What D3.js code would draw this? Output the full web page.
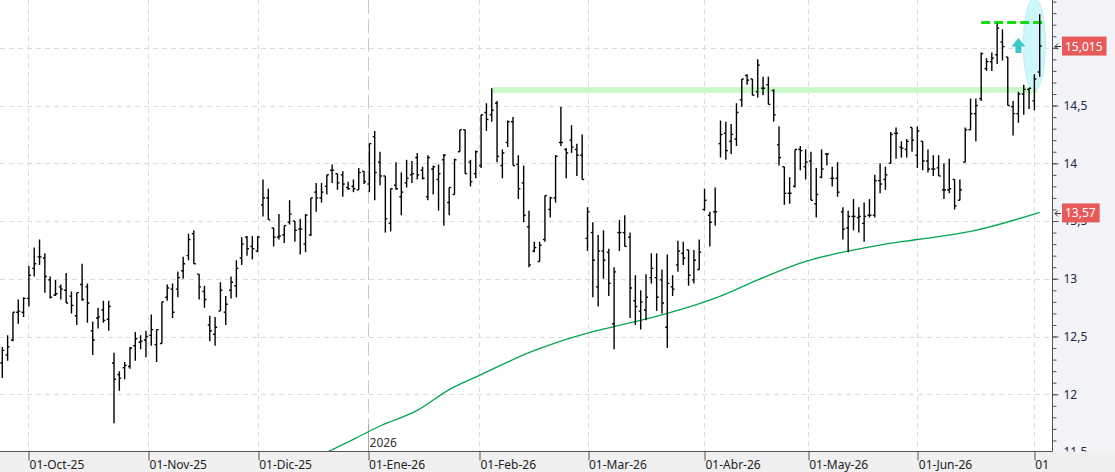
<!DOCTYPE html>
<html>
<head>
<meta charset="utf-8">
<script src="https://cdn.jsdelivr.net/npm/d3@7/dist/d3.min.js"></script>
<style>
body { margin: 0; background: #fff; }
svg { display: block; font-family: "Noto Sans", sans-serif; }
</style>
</head>
<body>
<svg id="chart" width="1115" height="472"></svg>
<script>
// daily bars, oldest first (index = trading day)
var open = [12.27,12.34,12.47,12.71,12.71,12.83,13.09,13.19,13.18,12.99,
 12.86,12.93,12.90,12.85,12.68,12.95,12.93,12.55,12.66,12.73,
 12.65,12.27,12.17,12.23,12.24,12.42,12.45,12.47,12.51,12.43,
 12.44,12.84,12.91,12.91,13.07,13.20,13.39,13.04,12.89,12.60,
 12.52,12.72,12.71,12.90,12.94,13.18,13.36,13.28,13.24,13.64,
 13.70,13.44,13.36,13.38,13.49,13.50,13.43,13.30,13.38,13.75,
 13.70,13.80,13.94,13.91,13.90,13.79,13.80,13.77,13.93,13.82,
 14.23,14.01,13.89,13.48,13.81,13.71,13.83,13.90,14.05,13.94,
 13.71,13.95,13.86,14.03,13.66,13.73,14.10,14.29,14.01,13.91,
 13.98,14.44,14.42,14.52,13.98,14.18,14.36,13.99,13.83,13.45,
 13.24,13.15,13.34,13.60,13.70,14.18,14.12,14.20,14.12,14.07,
 13.35,13.40,12.93,13.24,13.23,12.61,13.40,13.40,13.36,12.81,
 12.72,12.73,13.01,13.01,12.99,12.58,12.93,13.12,13.22,13.25,
 12.99,13.08,13.60,13.55,13.58,14.17,14.26,14.19,14.21,14.55,
 14.76,14.73,14.62,14.65,14.68,14.63,14.16,13.97,13.74,13.80,
 14.12,13.97,14.02,13.65,13.88,14.08,13.87,13.87,13.58,13.44,
 13.54,13.53,13.48,13.55,13.55,13.85,13.86,14.00,14.26,14.14,
 14.12,14.31,14.07,14.19,14.02,13.95,13.96,13.77,13.77,13.86,
 13.68,14.01,14.29,14.43,14.56,14.82,14.88,14.94,15.05,14.92,
 14.49,14.43,14.60,14.64,14.54,14.79]
var high = [12.41,12.51,12.71,12.82,12.84,13.11,13.27,13.34,13.22,13.02,
 12.99,12.95,13.05,12.89,12.88,13.13,12.96,12.63,12.75,12.81,
 12.81,12.36,12.20,12.28,12.41,12.54,12.51,12.55,12.69,12.56,
 12.80,12.95,12.96,13.06,13.19,13.39,13.42,13.04,12.94,12.68,
 12.67,12.97,12.85,13.02,13.16,13.36,13.37,13.37,13.37,13.86,
 13.78,13.44,13.56,13.46,13.68,13.50,13.52,13.56,13.70,13.83,
 13.83,13.90,13.99,13.91,13.93,13.84,13.86,13.96,13.93,14.17,
 14.28,14.10,13.89,13.78,14.01,13.92,14.03,14.02,14.09,13.97,
 14.07,13.98,13.99,14.08,13.79,14.04,14.29,14.29,14.03,14.11,
 14.42,14.52,14.65,14.54,14.12,14.37,14.40,14.07,13.98,13.59,
 13.32,13.32,13.72,13.71,14.07,14.49,14.13,14.33,14.17,14.25,
 13.62,13.49,13.38,13.42,13.26,13.10,13.51,13.55,13.40,13.03,
 12.90,13.04,13.22,13.22,13.08,13.21,13.03,13.33,13.32,13.25,
 13.25,13.34,13.78,13.58,13.79,14.37,14.36,14.34,14.52,14.73,
 14.77,14.73,14.90,14.75,14.75,14.64,14.32,13.97,13.88,14.12,
 14.15,14.12,14.10,13.96,14.12,14.09,13.97,14.01,13.62,13.59,
 13.69,13.62,13.66,13.69,13.90,14.00,13.97,14.27,14.31,14.19,
 14.21,14.31,14.32,14.19,14.12,14.07,14.07,14.00,14.04,13.86,
 13.86,14.31,14.56,14.56,14.96,14.91,14.96,15.21,15.16,14.92,
 14.54,14.62,14.68,14.65,14.77,15.29]
var low = [12.14,12.29,12.46,12.61,12.67,12.76,13.02,13.12,12.88,12.83,
 12.85,12.82,12.79,12.70,12.60,12.81,12.62,12.34,12.57,12.62,
 12.55,11.75,12.03,12.13,12.22,12.29,12.39,12.32,12.42,12.28,
 12.44,12.81,12.66,12.84,13.00,13.16,13.13,12.82,12.75,12.46,
 12.42,12.72,12.60,12.83,12.84,13.12,13.20,13.17,13.23,13.54,
 13.51,13.28,13.34,13.31,13.47,13.32,13.21,13.23,13.37,13.58,
 13.66,13.73,13.83,13.77,13.71,13.77,13.75,13.77,13.82,13.75,
 13.68,13.81,13.40,13.41,13.77,13.55,13.79,13.83,13.86,13.86,
 13.68,13.73,13.59,13.46,13.55,13.73,14.10,13.91,13.80,13.87,
 13.96,14.28,14.36,14.01,13.87,14.14,13.98,13.69,13.49,13.10,
 13.23,13.15,13.32,13.53,13.66,14.15,13.87,14.09,13.89,13.86,
 13.24,12.84,12.76,13.00,12.85,12.39,13.24,13.28,12.66,12.60,
 12.56,12.64,12.96,12.72,12.70,12.40,12.85,13.06,13.12,12.94,
 12.96,13.08,13.59,13.28,13.46,14.05,14.03,14.08,14.15,14.49,
 14.68,14.59,14.57,14.59,14.51,14.36,13.98,13.64,13.65,13.79,
 13.94,13.86,13.68,13.53,13.87,13.98,13.80,13.71,13.34,13.23,
 13.42,13.40,13.32,13.53,13.53,13.74,13.77,14.00,14.04,14.05,
 14.05,14.10,13.96,13.94,13.92,13.89,13.89,13.69,13.74,13.60,
 13.68,14.01,14.29,14.19,14.54,14.80,14.80,14.86,14.89,14.50,
 14.24,14.35,14.42,14.47,14.46,14.75]
var close = [12.38,12.41,12.71,12.72,12.83,13.03,13.13,13.19,13.02,12.84,
 12.87,12.91,12.79,12.77,12.88,12.82,12.79,12.47,12.67,12.64,
 12.76,12.13,12.14,12.25,12.40,12.48,12.46,12.50,12.56,12.56,
 12.80,12.92,12.71,13.01,13.13,13.34,13.13,12.93,12.82,12.55,
 12.58,12.90,12.78,12.97,13.09,13.30,13.26,13.26,13.36,13.70,
 13.51,13.36,13.37,13.46,13.56,13.42,13.43,13.55,13.70,13.70,
 13.75,13.90,13.94,13.83,13.82,13.78,13.78,13.92,13.84,14.17,
 13.92,13.89,13.52,13.78,13.78,13.75,13.87,13.91,13.90,13.87,
 14.05,13.97,13.91,14.07,13.79,14.03,14.29,13.91,13.84,14.10,
 14.42,14.38,14.46,14.06,14.09,14.36,13.98,13.78,13.55,13.12,
 13.27,13.29,13.72,13.70,14.06,14.18,14.09,14.14,14.07,13.86,
 13.58,13.16,13.24,13.16,12.96,13.06,13.40,13.28,12.92,12.76,
 12.80,12.84,13.09,12.84,12.79,12.96,12.91,13.24,13.18,13.03,
 13.16,13.23,13.68,13.49,13.58,14.25,14.11,14.25,14.44,14.73,
 14.72,14.59,14.85,14.65,14.51,14.42,14.05,13.74,13.74,14.12,
 14.11,14.01,13.68,13.73,13.95,14.08,13.87,13.75,13.43,13.54,
 13.54,13.54,13.54,13.55,13.85,13.82,13.90,14.25,14.26,14.13,
 14.19,14.20,14.28,14.02,13.95,13.95,13.89,13.77,13.78,13.63,
 13.77,14.29,14.43,14.50,14.95,14.88,14.91,15.17,15.01,14.50,
 14.43,14.60,14.64,14.65,14.73,15.015]

// moving average, read at some bars
var maIdx = [60, 66, 71, 78, 84, 90, 99, 110, 115, 125, 135, 142, 151, 159, 166, 172, 182, 195]
var maVal = [11.475, 11.61, 11.725, 11.86, 12.04, 12.17, 12.36, 12.53, 12.585, 12.70, 12.85, 12.99, 13.15, 13.24, 13.30, 13.34, 13.41, 13.575]

// month ticks (bar index, fractional when the 1st is not a trading day)
var monthIdx = [4.85, 27.4, 48, 68.65, 89.6, 110, 131.9, 151.4, 172, 193.9]
var monthLabels = ["01-Oct-25", "01-Nov-25", "01-Dic-25", "01-Ene-26", "01-Feb-26", "01-Mar-26", "01-Abr-26", "01-May-26", "01-Jun-26", "01"]
var yearIdx = 68.65
var yearLabel = "2026"

var yTickVals = [11.5, 12, 12.5, 13, 13.5, 14, 14.5, 15]
var yTickLabels = ["11,5", "12", "12,5", "13", "13,5", "14", "14,5", "15"]

// annotations
var bandFrom = 92, bandTo = 194.5, bandLo = 14.61, bandHi = 14.66
var resistFrom = 184, resistTo = 195.7, resistVal = 15.22
var arrowIdx = 191, arrowTop = 15.085, arrowBottom = 14.955
var ovalIdx = 194, ovalVal = 15.03, ovalHalfBars = 2.1, ovalHalfVal = 0.4

var lastVals = [15.015, 13.57]
var lastTexts = ["15,015", "13,57"]

var W = 1115, H = 472
var plotRight = 1052.5, plotBottom = 451.5

var svg = d3.select('#chart')

var x = d3.scaleLinear()
    .domain([0, open.length - 1])
    .range([2.3, 1039.7])
var y = d3.scaleLinear()
    .domain([11.5, 15.4])
    .range([452, 1.6])

svg.append('defs').append('clipPath')
    .attr('id', 'plotClip')
    .append('rect')
    .attr('x', 0).attr('y', 0)
    .attr('width', plotRight).attr('height', plotBottom)

// right axis panel
svg.append('rect')
    .attr('x', plotRight).attr('y', 0)
    .attr('width', W - plotRight).attr('height', plotBottom)
    .attr('fill', '#f3f4f8')

var plot = svg.append('g').attr('clip-path', 'url(#plotClip)')

// grid
plot.append('g').selectAll('line')
    .data(yTickVals.slice(1))
    .enter().append('line')
    .attr('x1', 0).attr('x2', plotRight)
    .attr('y1', function(d) { return Math.round(y(d)) + 0.5 })
    .attr('y2', function(d) { return Math.round(y(d)) + 0.5 })
    .attr('stroke', '#dcdcdc')
    .attr('stroke-dasharray', '5,4')

plot.append('g').selectAll('line')
    .data(monthIdx.filter(function(d) { return d != yearIdx }))
    .enter().append('line')
    .attr('x1', function(d) { return Math.round(x(d)) + 0.5 })
    .attr('x2', function(d) { return Math.round(x(d)) + 0.5 })
    .attr('y1', 0).attr('y2', plotBottom)
    .attr('stroke', '#dcdcdc')
    .attr('stroke-dasharray', '5,4')

// year separator
plot.append('line')
    .attr('x1', Math.round(x(yearIdx)) + 0.5).attr('x2', Math.round(x(yearIdx)) + 0.5)
    .attr('y1', 0).attr('y2', 424)
    .attr('stroke', '#cacaca')
    .attr('stroke-dasharray', '14,5')
plot.append('line')
    .attr('x1', Math.round(x(yearIdx)) + 0.5).attr('x2', Math.round(x(yearIdx)) + 0.5)
    .attr('y1', 424).attr('y2', plotBottom)
    .attr('stroke', '#aaaaaa')
plot.append('text')
    .attr('x', x(yearIdx) + 2)
    .attr('y', 447)
    .attr('font-size', 12)
    .attr('fill', '#333')
    .text(yearLabel)

// resistance band
plot.append('rect')
    .attr('x', x(bandFrom))
    .attr('y', y(bandHi))
    .attr('width', x(bandTo) - x(bandFrom))
    .attr('height', y(bandLo) - y(bandHi))
    .attr('fill', '#c9f8c9')

// oval
plot.append('ellipse')
    .attr('cx', x(ovalIdx))
    .attr('cy', y(ovalVal))
    .attr('rx', x(ovalIdx + ovalHalfBars) - x(ovalIdx))
    .attr('ry', y(ovalVal - ovalHalfVal) - y(ovalVal))
    .attr('fill', '#cdf7fb')
    .attr('stroke', '#bdeff6')

// moving average
plot.append('path')
    .datum(d3.zip(maIdx, maVal))
    .attr('d', d3.line()
          .curve(d3.curveMonotoneX)
          .x(function(d) { return x(d[0]) })
          .y(function(d) { return y(d[1]) }))
    .attr('fill', 'none')
    .attr('stroke', '#00a651')
    .attr('stroke-width', 1.3)

// dashed line on the top
plot.append('line')
    .attr('x1', x(resistFrom)).attr('x2', x(resistTo))
    .attr('y1', y(resistVal)).attr('y2', y(resistVal))
    .attr('stroke', '#11dd11')
    .attr('stroke-width', 3)
    .attr('stroke-dasharray', '9,4')

// up arrow
var ax = x(arrowIdx), at = y(arrowTop), ab = y(arrowBottom), am = at + (ab - at) * 0.56
plot.append('path')
    .attr('d', 'M' + ax + ',' + at + ' L' + (ax + 7) + ',' + am + ' L' + (ax + 3) + ',' + am +
          ' L' + (ax + 3) + ',' + ab + ' L' + (ax - 3) + ',' + ab + ' L' + (ax - 3) + ',' + am +
          ' L' + (ax - 7) + ',' + am + 'Z')
    .attr('fill', '#3ec6c9')

// OHLC bars
var bars = plot.append('g')
    .attr('stroke', '#000')
    .attr('stroke-width', 1.4)
    .selectAll('g')
    .data(d3.range(open.length))
    .enter()
    .append('g')

bars.append('line')
    .attr('x1', function(i) { return x(i) }).attr('x2', function(i) { return x(i) })
    .attr('y1', function(i) { return y(high[i]) }).attr('y2', function(i) { return y(low[i]) })
bars.append('line')
    .attr('x1', function(i) { return x(i) - 2 }).attr('x2', function(i) { return x(i) })
    .attr('y1', function(i) { return y(open[i]) }).attr('y2', function(i) { return y(open[i]) })
bars.append('line')
    .attr('x1', function(i) { return x(i) }).attr('x2', function(i) { return x(i) + 2 })
    .attr('y1', function(i) { return y(close[i]) }).attr('y2', function(i) { return y(close[i]) })

// right axis
var yAxisG = svg.append('g').attr('transform', 'translate(' + plotRight + ',0)')
yAxisG.append('g')
    .call(d3.axisRight(y)
          .tickValues(d3.range(115, 155).map(function(d) { return d / 10 }))
          .tickSize(4)
          .tickFormat(''))
yAxisG.append('g')
    .call(d3.axisRight(y)
          .tickValues(yTickVals)
          .tickSize(6)
          .tickPadding(5)
          .tickFormat(function(d, i) { return yTickLabels[i] }))
yAxisG.selectAll('.domain').remove()
yAxisG.selectAll('line').attr('stroke', '#555')
yAxisG.selectAll('text')
    .attr('font-size', 12)
    .attr('font-family', '"Noto Sans", sans-serif')
    .attr('fill', '#23253f')

// bottom strip
svg.append('rect')
    .attr('x', 0).attr('y', plotBottom)
    .attr('width', W).attr('height', H - plotBottom)
    .attr('fill', '#f0f0f0')

svg.append('line')
    .attr('x1', plotRight).attr('x2', plotRight)
    .attr('y1', 0).attr('y2', plotBottom)
    .attr('stroke', '#555')
svg.append('line')
    .attr('x1', 0).attr('x2', plotRight)
    .attr('y1', plotBottom).attr('y2', plotBottom)
    .attr('stroke', '#555')

var xAxisG = svg.append('g')
    .attr('transform', 'translate(0,' + plotBottom + ')')
    .call(d3.axisBottom(x)
          .tickValues(monthIdx)
          .tickSize(9)
          .tickFormat(function(d, i) { return monthLabels[i] }))
xAxisG.select('.domain').remove()
xAxisG.selectAll('line')
    .attr('stroke', '#555')
    .attr('transform', function(d) { return 'translate(' + (Math.round(x(d)) + 0.5 - x(d)) + ',0)' })
xAxisG.selectAll('text')
    .attr('text-anchor', 'start')
    .attr('x', 1)
    .attr('y', 8.5)
    .attr('font-size', 12)
    .attr('font-family', '"Noto Sans", sans-serif')
    .attr('fill', '#222')

// last value labels
var tags = svg.append('g').selectAll('g')
    .data(lastVals)
    .enter().append('g')

tags.append('path')
    .attr('d', function(d) {
        var yy = Math.round(y(d)) + 0.5
        return 'M1058,' + (yy - 3) + ' L1055,' + yy + ' L1058,' + (yy + 3) + ' M1055,' + yy + ' H1061'
    })
    .attr('fill', 'none')
    .attr('stroke', '#333')
tags.append('rect')
    .attr('x', 1062)
    .attr('y', function(d) { return y(d) - 9.5 })
    .attr('height', 19)
    .attr('width', 40)
    .attr('fill', '#e85a5a')
tags.append('text')
    .attr('x', 1065)
    .attr('y', function(d) { return y(d) + 4.5 })
    .attr('font-size', 12)
    .attr('fill', '#fff')
    .text(function(d, i) { return lastTexts[i] })

tags.each(function() {
    var g = d3.select(this)
    var w = g.select('text').node().getComputedTextLength()
    g.select('rect').attr('width', w + 7)
})
</script>
</body>
</html>
